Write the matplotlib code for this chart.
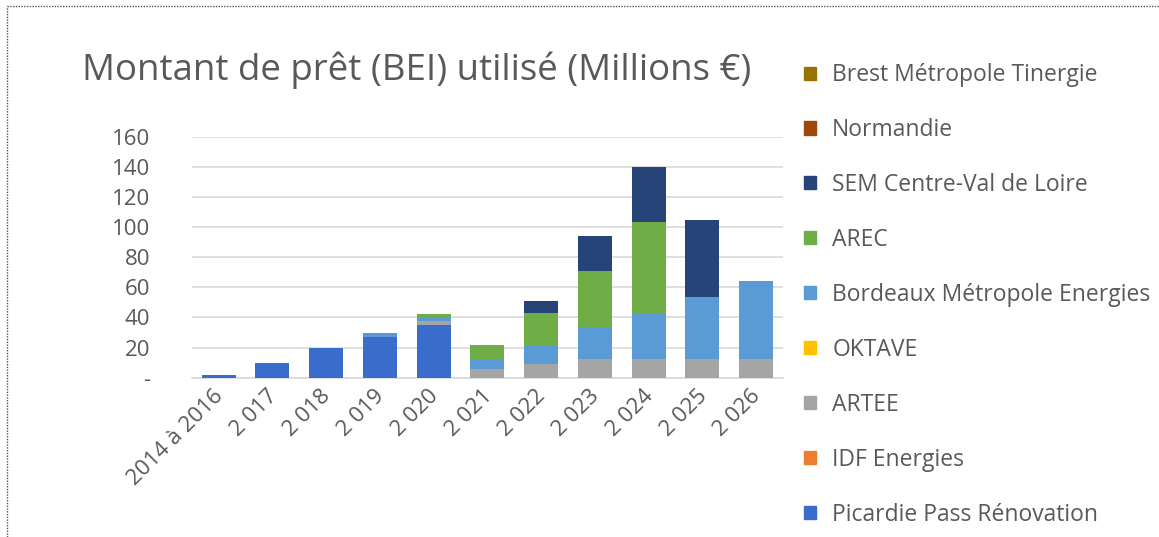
import matplotlib
matplotlib.use("Agg")
import matplotlib.pyplot as plt
import matplotlib.transforms as mtransforms
import numpy as np
from matplotlib.lines import Line2D
from matplotlib.patches import Patch
from matplotlib.ticker import FuncFormatter

categories = ["2014 à 2016", "2 017", "2 018", "2 019", "2 020", "2 021",
              "2 022", "2 023", "2 024", "2 025", "2 026"]

# series in stacking order (bottom -> top)
picardie  = [1.5, 10, 20, 27, 35, 0, 0, 0, 0, 0, 0]
idf       = [0, 0, 0, 0, 0, 0, 0, 0, 0, 0, 0]
artee     = [0, 0, 0, 0, 2.5, 5.5, 8.8, 12.6, 12.6, 12.6, 12.6]
oktave    = [0, 0, 0, 0, 0, 0, 0, 0, 0, 0, 0]
bordeaux  = [0, 0, 0, 3, 2.5, 6.6, 12.6, 21.3, 30.6, 41.2, 51.4]
arec      = [0, 0, 0, 0, 2.3, 9.3, 21.3, 37, 60.5, 0, 0]
sem       = [0, 0, 0, 0, 0, 0.5, 8.2, 23.3, 35.9, 50.7, 0]
normandie = [0, 0, 0, 0, 0, 0, 0, 0, 0, 0, 0]
brest     = [0, 0, 0, 0, 0, 0, 0, 0, 0, 0, 0]

series_names = ["Picardie Pass Rénovation", "IDF Energies", "ARTEE", "OKTAVE",
                "Bordeaux Métropole Energies", "AREC", "SEM Centre-Val de Loire",
                "Normandie", "Brest Métropole Tinergie"]
series_values = [picardie, idf, artee, oktave, bordeaux, arec, sem, normandie, brest]
colors = ["#3a6ccc", "#ED7D31", "#A5A5A5", "#FFC000", "#5B9BD5", "#70AD47",
          "#264478", "#9E480E", "#997300"]

yticks = [0, 20, 40, 60, 80, 100, 120, 140, 160]

FONT = ["Open Sans", "DejaVu Sans"]
TXT = "#595959"

W, H = 1159, 537
fig = plt.figure(figsize=(W / 100, H / 100), dpi=100)
fig.patch.set_facecolor("white")

ax = fig.add_axes([191.7 / W, 1 - 377.7 / H, (783 - 191.7) / W, (377.7 - 136.7) / H])
x = np.arange(len(categories))
bottom = np.zeros(len(categories))
for name, vals, c in zip(series_names, series_values, colors):
    v = np.array(vals, dtype=float)
    ax.bar(x, v, 0.63, bottom=bottom, color=c, label=name, zorder=3)
    bottom += v

ax.set_xlim(-0.5, len(categories) - 0.5)
ax.set_ylim(0, 160)
ax.set_yticks(yticks)
ax.yaxis.set_major_formatter(FuncFormatter(lambda v, p: "-" if v == 0 else f"{int(v)}"))
ax.grid(axis="y", color="#d9d9d9", linewidth=1.2, zorder=0)
for s in ["top", "right", "left"]:
    ax.spines[s].set_visible(False)
ax.spines["bottom"].set_color("#d9d9d9")
ax.spines["bottom"].set_linewidth(1.2)
ax.tick_params(axis="both", length=0, colors=TXT, labelsize=16)
ax.tick_params(axis="y", pad=30)
ax.tick_params(axis="x", pad=6)
ax.set_xticks(x)
ax.set_xticklabels(categories, rotation=45, ha="right", rotation_mode="anchor",
                   fontsize=16, color=TXT, family=FONT)
offset = mtransforms.ScaledTranslation(-6 / 100, 0, fig.dpi_scale_trans)
for lab in ax.get_xticklabels():
    lab.set_transform(lab.get_transform() + offset)
for lab in ax.get_yticklabels():
    lab.set_family(FONT)
    lab.set_fontsize(16)

fig.text(82 / W, 1 - 70 / H, "Montant de prêt (BEI) utilisé (Millions €)",
         fontsize=26.4, color=TXT, family=FONT, va="center", ha="left")

# legend (reversed order)
handles = [Patch(facecolor=c, edgecolor=c) for c in colors][::-1]
labels = series_names[::-1]
leg = fig.legend(handles, labels, loc="upper left",
                 bbox_to_anchor=(795 / W, 1 - 54 / H), frameon=False,
                 fontsize=16.5, labelspacing=1.35, handlelength=0.5, handleheight=0.5,
                 handletextpad=0.72, borderaxespad=0)
for t in leg.get_texts():
    t.set_color(TXT)
    t.set_family(FONT)

# dotted frame (top and left)
fig.add_artist(Line2D([7 / W, 1], [1 - 6 / H, 1 - 6 / H], transform=fig.transFigure,
                      color="#555555", linestyle=(0, (1, 1)), linewidth=1))
fig.add_artist(Line2D([7 / W, 7 / W], [0, 1 - 6 / H], transform=fig.transFigure,
                      color="#555555", linestyle=(0, (1, 1)), linewidth=1))

fig.savefig("out.png", dpi=100, facecolor="white")
